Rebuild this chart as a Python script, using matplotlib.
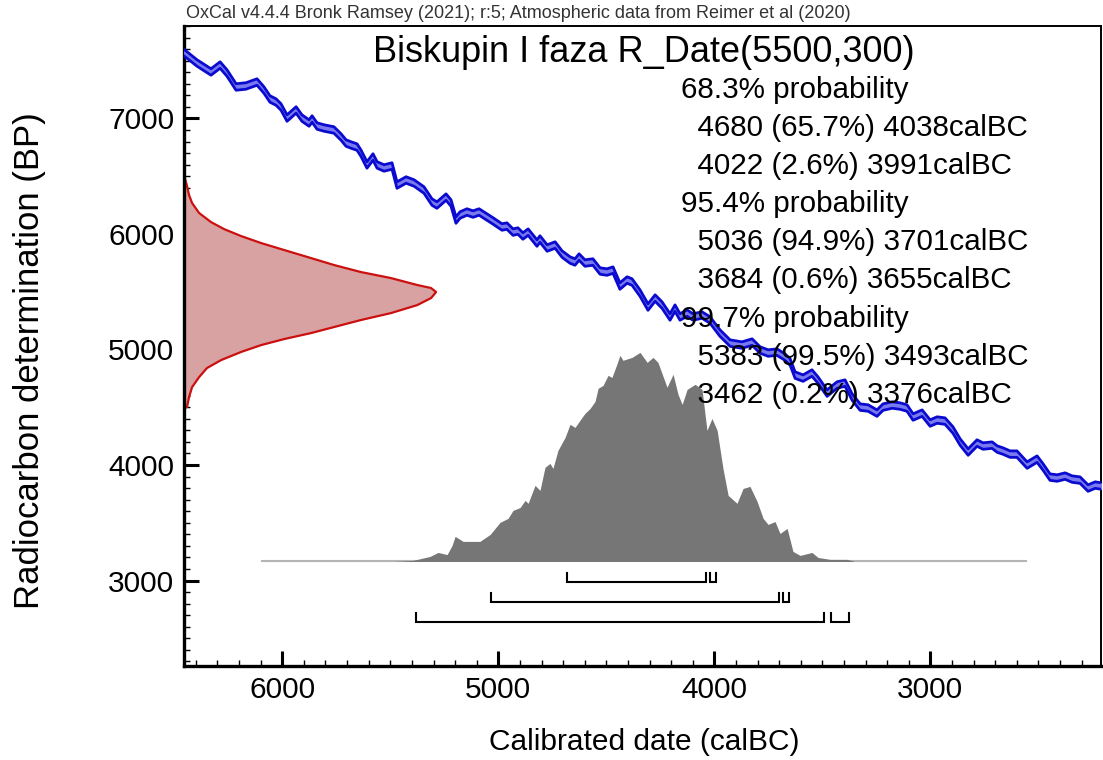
import matplotlib
matplotlib.use("Agg")
import matplotlib.pyplot as plt
import numpy as np
from matplotlib.ticker import MultipleLocator

plt.rcParams['font.family'] = ['Liberation Sans', 'DejaVu Sans']

# calibration curve (calBC, BP)
curve_cal = [6470, 6441, 6395, 6330, 6288, 6256, 6214, 6168, 6117, 6085, 6057,
             6029, 6006, 5978, 5936, 5909, 5876, 5862, 5839, 5807, 5761,
             5728, 5705, 5682, 5654, 5636, 5608, 5580, 5561, 5529, 5492,
             5469, 5427, 5390, 5344, 5307, 5284, 5242, 5219, 5196,
             5177, 5145, 5117, 5089, 5052, 5024, 4983, 4960, 4932, 4909,
             4886, 4862, 4821, 4807, 4774, 4737, 4705, 4668, 4645, 4626,
             4599, 4562, 4529, 4497, 4469, 4437, 4404, 4381, 4344, 4307,
             4274, 4242, 4205, 4182, 4159, 4126, 4099, 4057, 4020,
             3974, 3927, 3872, 3825, 3788, 3751, 3710, 3673, 3649, 3626,
             3589, 3548, 3520, 3478, 3432, 3395, 3362, 3325, 3288, 3247,
             3219, 3177,
             3140, 3108, 3080, 3038, 3001, 2969, 2932, 2895, 2862, 2825,
             2784, 2756, 2714, 2691, 2663, 2631, 2599, 2552, 2506, 2478,
             2446, 2413, 2376, 2344, 2307, 2270, 2237, 2205]
curve_bp = [7590, 7549, 7480, 7402, 7462, 7393, 7272, 7281, 7315, 7246, 7168,
            7142, 7099, 7003, 7073, 7003, 6960, 6995, 6934, 6917, 6900,
            6839, 6787, 6770, 6752, 6700, 6597, 6666, 6597, 6571, 6588,
            6423, 6467, 6441, 6380, 6276, 6250, 6319, 6268, 6120,
            6164, 6190, 6172, 6190, 6146, 6112, 6060, 6068, 6016, 6025,
            5982, 6016, 5921, 5956, 5878, 5904, 5826, 5774, 5757, 5800,
            5748, 5757, 5679, 5670, 5687, 5549, 5601, 5584, 5488, 5367,
            5445, 5384, 5281, 5358, 5281, 5315, 5281, 5298, 5255,
            5142, 5055, 5038, 5064, 4995, 4969, 4977, 4934, 4891, 4778,
            4752, 4796, 4735, 4622, 4692, 4709, 4588, 4501, 4493, 4449,
            4501, 4519,
            4510, 4493, 4415, 4449, 4363, 4389, 4380, 4302, 4198, 4112,
            4190, 4164, 4172, 4138, 4120, 4094, 4094, 3999, 4051, 3982,
            3895, 3887, 3904, 3878, 3869, 3800, 3826, 3817]
curve_sigma = 28

# R_Date(5500,300) on the BP axis
date_bp = [6510, 6423, 6337, 6268, 6181, 6103, 6042, 5982, 5921, 5861, 5791,
           5731, 5670, 5618, 5558, 5532, 5497, 5445, 5384, 5315, 5255, 5194,
           5142, 5090, 5038, 4978, 4908, 4839, 4761, 4674, 4588, 4501, 4490]
date_prob = [0, 0.011, 0.02, 0.032, 0.06, 0.107, 0.159, 0.226, 0.306, 0.397,
             0.504, 0.595, 0.702, 0.821, 0.925, 0.98, 1.0, 0.98, 0.925, 0.821,
             0.702, 0.595, 0.504, 0.397, 0.306, 0.226, 0.147, 0.091, 0.06,
             0.032, 0.02, 0.012, 0]

# calibrated distribution (calBC)
post_cal = [5487, 5395, 5316, 5279, 5237, 5214, 5200, 5163, 5117, 5085,
            5038, 4992, 4955, 4932, 4899, 4876, 4862, 4830, 4807, 4784,
            4761, 4747, 4724, 4691, 4668, 4645, 4622, 4599, 4575, 4552,
            4538, 4515, 4492, 4474, 4450, 4437, 4423, 4381, 4344, 4311,
            4284, 4261, 4219, 4191, 4168, 4149, 4126, 4089, 4057, 4034,
            4011, 3987, 3960, 3936, 3895, 3867, 3835, 3802, 3774, 3751,
            3719, 3696, 3663, 3636, 3603, 3548, 3520, 3464, 3432, 3386, 3349]
post_prob = [0, 0.005, 0.024, 0.043, 0.033, 0.077, 0.12, 0.096, 0.096, 0.096,
             0.129, 0.187, 0.206, 0.244, 0.258, 0.292, 0.278, 0.364, 0.34, 0.45,
             0.469, 0.445, 0.531, 0.593, 0.656, 0.641, 0.675, 0.708, 0.732, 0.766,
             0.828, 0.842, 0.89, 0.88, 0.947, 0.986, 0.962, 0.976, 1.0, 0.952,
             0.976, 0.952, 0.833, 0.895, 0.799, 0.751, 0.823, 0.847, 0.823, 0.627,
             0.684, 0.627, 0.445, 0.316, 0.278, 0.349, 0.359, 0.287, 0.206, 0.177,
             0.191, 0.134, 0.158, 0.048, 0.029, 0.043, 0.019, 0.01, 0.01, 0.01, 0]
post_span = (6094, 2557)

ranges_68 = [(4680, 4038), (4022, 3991)]
ranges_95 = [(5036, 3701), (3684, 3655)]
ranges_99 = [(5383, 3493), (3462, 3376)]

info_lines = ["68.3% probability",
              "  4680 (65.7%) 4038calBC",
              "  4022 (2.6%) 3991calBC",
              "95.4% probability",
              "  5036 (94.9%) 3701calBC",
              "  3684 (0.6%) 3655calBC",
              "99.7% probability",
              "  5383 (99.5%) 3493calBC",
              "  3462 (0.2%) 3376calBC"]

W, H = 1103, 760
fig = plt.figure(figsize=(W / 100, H / 100), dpi=100)
ax = fig.add_axes([184 / W, 94 / H, 917 / W, 640 / H])
x0, x1 = 6455, 2210
ax.set_xlim(x0, x1)
ax.set_ylim(2260, 7800)

# curve
cal = np.array(curve_cal)
bp = np.array(curve_bp)
ax.fill_between(cal, bp - curve_sigma, bp + curve_sigma, color='#7a7af0', lw=0, zorder=3)
ax.plot(cal, bp + curve_sigma, color='#0b0bd0', lw=2.0, zorder=4)
ax.plot(cal, bp - curve_sigma, color='#0b0bd0', lw=2.0, zorder=4)

# radiocarbon date
dx = x0 - np.array(date_prob) * 1167
ax.fill_betweenx(date_bp, x0, dx, color='#d9a2a2', lw=0, zorder=2)
ax.plot(dx, date_bp, color='#cc1010', lw=1.6, zorder=2)

# calibrated probability
base = 3165
ax.plot(post_span, [base, base], color='#b5b5b5', lw=1.5, zorder=2)
ax.fill_between(post_cal, base, base + np.array(post_prob) * 1810,
                color='#767676', lw=0, zorder=2)

# ranges
for row, rr in zip([2986, 2813, 2640], [ranges_68, ranges_95, ranges_99]):
    for a, b in rr:
        ax.plot([a, a, b, b], [row + 78, row, row, row + 78], color='k', lw=1.5,
                solid_joinstyle='miter', zorder=2)

ax.xaxis.set_major_locator(MultipleLocator(1000))
ax.xaxis.set_minor_locator(MultipleLocator(100))
ax.yaxis.set_major_locator(MultipleLocator(1000))
ax.yaxis.set_minor_locator(MultipleLocator(100))
ax.tick_params(which='both', direction='in', top=False, right=False, labelsize=21.5)
ax.tick_params(which='major', length=11, width=2.2, pad=7)
ax.tick_params(which='minor', length=4.5, width=1.0)
for s in ['left', 'bottom']:
    ax.spines[s].set_linewidth(2.4)
for s in ['top', 'right']:
    ax.spines[s].set_linewidth(1.4)

fig.text(186 / W, 1 - 14 / H, "OxCal v4.4.4 Bronk Ramsey (2021); r:5; Atmospheric data from Reimer et al (2020)",
         fontsize=13, color='#333333', va='center')
fig.text(644 / W, 1 - 52 / H, "Biskupin I faza R_Date(5500,300)", fontsize=26,
         ha='center', va='center', zorder=10)
for i, s in enumerate(info_lines):
    fig.text(681 / W, 1 - (90 + 38.1 * i) / H, s, fontsize=21.3, va='center', zorder=10)

fig.text(30 / W, 1 - 361 / H, "Radiocarbon determination (BP)", fontsize=25,
         rotation=90, ha='center', va='center')
fig.text(644 / W, 1 - 742 / H, "Calibrated date (calBC)", fontsize=21.5,
         ha='center', va='center')

fig.savefig("out.png", dpi=100)
